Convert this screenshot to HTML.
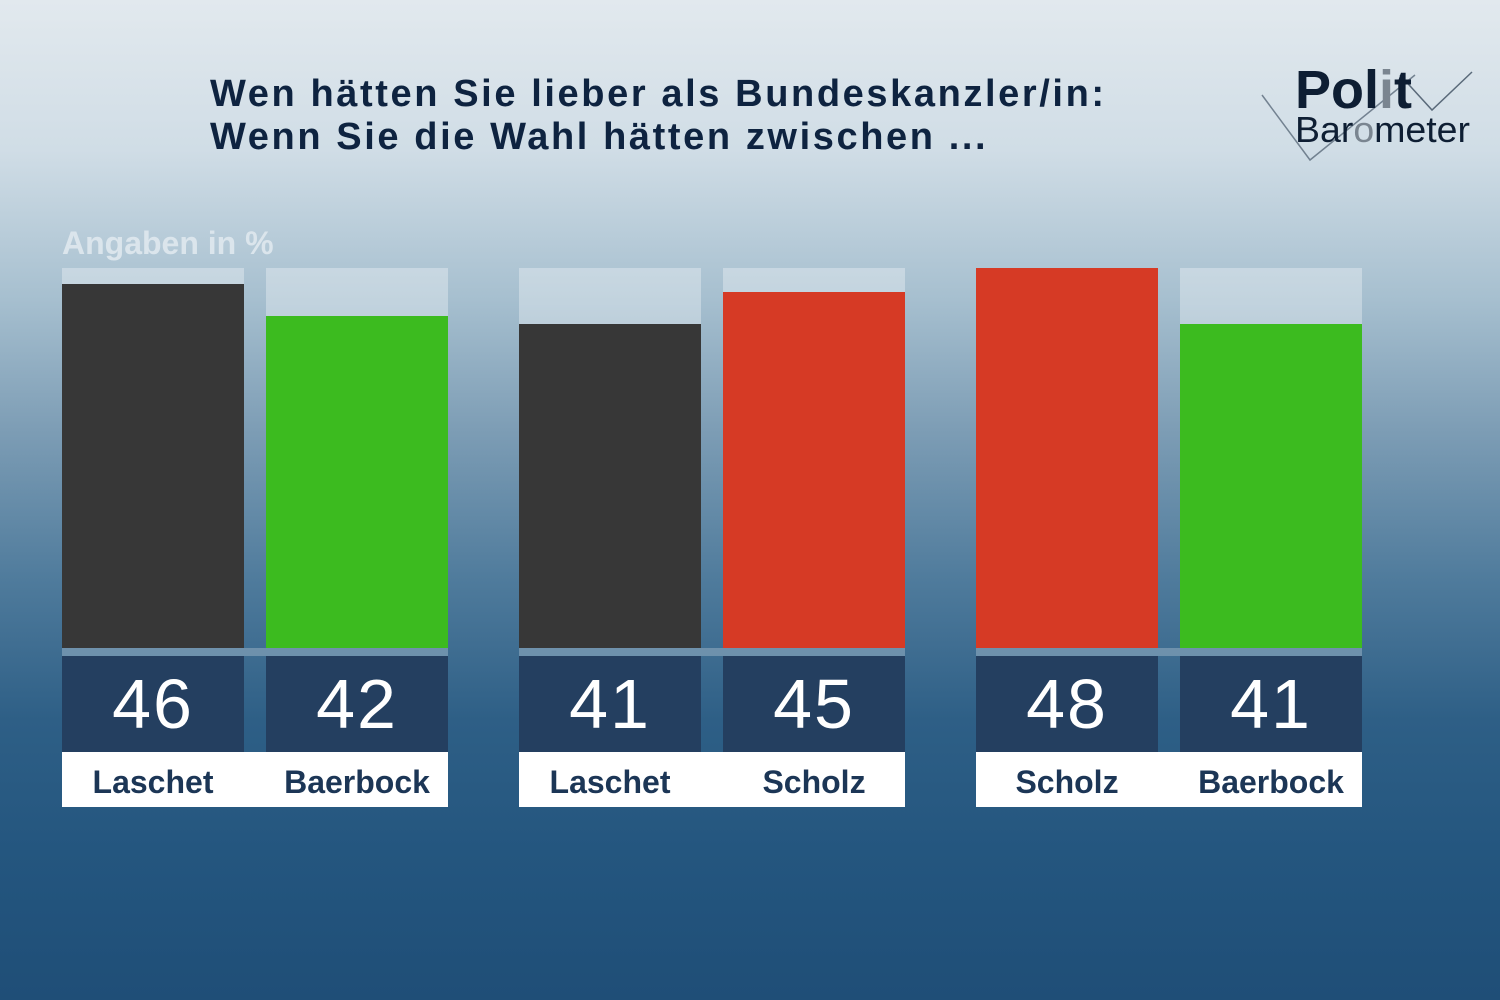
<!DOCTYPE html>
<html><head><meta charset="utf-8"><style>
body{margin:0;width:1500px;height:1000px;overflow:hidden;font-family:"Liberation Sans",sans-serif;
background:linear-gradient(180deg,#e2e9ee 0px,#d0dde6 150px,#a6bfcf 300px,#7d9db5 430px,#4f7b9c 580px,#2e5f86 720px,#24567f 850px,#1f4e77 1000px);position:relative}
.t{position:absolute;left:210px;top:73px;font-size:38px;font-weight:bold;color:#0e2340;line-height:43px;letter-spacing:2.6px}
.ang{position:absolute;left:62px;top:225px;font-size:32px;font-weight:bold;color:#dbe5ec}
.track{position:absolute;top:268px;width:182px;height:380px;background:rgba(255,255,255,0.32)}
.strip{position:absolute;top:648px;width:182px;height:8px;background:rgba(255,255,255,0.25)}
.bar{position:absolute;width:182px}
.num{position:absolute;top:656px;width:182px;height:96px;background:#243f60;color:#fff;font-size:70px;text-align:center;line-height:96px;letter-spacing:2px}
.lab{position:absolute;top:752px;width:182px;height:55px;background:#fff;color:#1c3656;font-size:32px;font-weight:bold;text-align:center;line-height:60px}
.gap{position:absolute;top:752px;width:22px;height:55px;background:#fff}
</style></head><body>
<div class="t">Wen hätten Sie lieber als Bundeskanzler/in:<br>Wenn Sie die Wahl hätten zwischen ...</div>
<div class="ang">Angaben in %</div>
<svg style="position:absolute;left:1250px;top:50px" width="240" height="120">
<polyline points="12,45 60,110 165,25" fill="none" stroke="#5a6a7a" stroke-width="1.5" opacity="0.8"/>
<polyline points="150,25 182,60 222,22" fill="none" stroke="#5a6a7a" stroke-width="1.5"/>
<text x="45" y="58" font-family="Liberation Sans" font-weight="bold" font-size="54" fill="#0e1e33">Pol<tspan fill="#7a8590">i</tspan>t</text>
<text x="45" y="92" font-family="Liberation Sans" font-size="36" fill="#0e1e33" textLength="175" lengthAdjust="spacingAndGlyphs">Bar<tspan fill="#7a8590">o</tspan>meter</text>
</svg>
<div class="track" style="left:62px"></div><div class="track" style="left:266px"></div>
<div class="track" style="left:519px"></div><div class="track" style="left:723px"></div>
<div class="track" style="left:976px"></div><div class="track" style="left:1180px"></div>
<div class="strip" style="left:62px;width:386px"></div><div class="strip" style="left:519px;width:386px"></div><div class="strip" style="left:976px;width:386px"></div>
<div class="bar" style="left:62px;top:284px;height:364px;background:#373737"></div>
<div class="bar" style="left:266px;top:316px;height:332px;background:#3cbb1f"></div>
<div class="bar" style="left:519px;top:324px;height:324px;background:#373737"></div>
<div class="bar" style="left:723px;top:292px;height:356px;background:#d63a25"></div>
<div class="bar" style="left:976px;top:268px;height:380px;background:#d63a25"></div>
<div class="bar" style="left:1180px;top:324px;height:324px;background:#3cbb1f"></div>
<div class="num" style="left:62px">46</div><div class="num" style="left:266px">42</div>
<div class="num" style="left:519px">41</div><div class="num" style="left:723px">45</div>
<div class="num" style="left:976px">48</div><div class="num" style="left:1180px">41</div>
<div class="gap" style="left:244px"></div><div class="gap" style="left:701px"></div><div class="gap" style="left:1158px"></div>
<div class="lab" style="left:62px">Laschet</div><div class="lab" style="left:266px">Baerbock</div>
<div class="lab" style="left:519px">Laschet</div><div class="lab" style="left:723px">Scholz</div>
<div class="lab" style="left:976px">Scholz</div><div class="lab" style="left:1180px">Baerbock</div>
</body></html>
